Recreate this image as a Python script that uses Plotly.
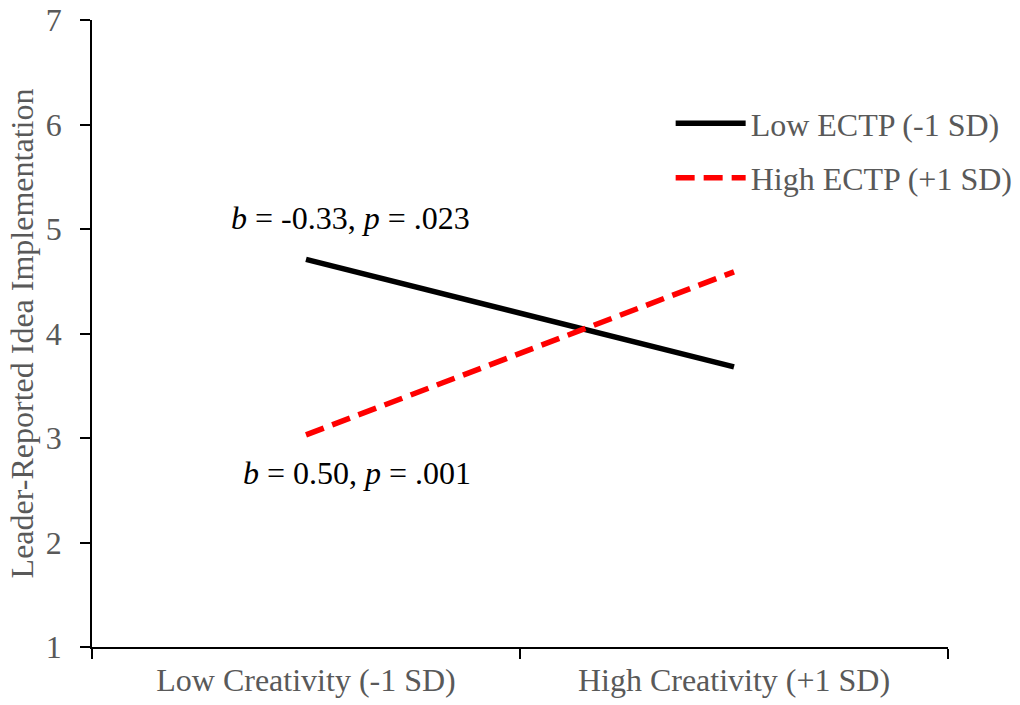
import plotly.graph_objects as go

categories = ["Low Creativity (-1 SD)", "High Creativity (+1 SD)"]
low_ectp = [4.71, 3.68]
high_ectp = [3.03, 4.59]
series_names = ["Low ECTP (-1 SD)", "High ECTP (+1 SD)"]
y_ticks = [1, 2, 3, 4, 5, 6, 7]
label_low = "<i>b</i> = -0.33, <i>p</i> = .023"
label_high = "<i>b</i> = 0.50, <i>p</i> = .001"

FONT = "Liberation Serif, Times New Roman, serif"
GREY = "#595959"
FS = 32

fig = go.Figure()
fig.add_trace(go.Scatter(x=categories, y=low_ectp, mode="lines", name=series_names[0],
                         line=dict(color="black", width=5.5), legendgroup="a"))
fig.add_trace(go.Scatter(x=categories, y=high_ectp, mode="lines", name=series_names[1],
                         line=dict(color="#FF0000", width=5.5, dash="19px,9px"), legendgroup="b"))

fig.add_annotation(x=categories[0], y=low_ectp[0], text=label_low, showarrow=False,
                   xshift=44, yshift=41, font=dict(family=FONT, size=FS, color="black"))
fig.add_annotation(x=categories[0], y=high_ectp[0], text=label_high, showarrow=False,
                   xshift=51, yshift=-38, font=dict(family=FONT, size=FS, color="black"))

fig.update_layout(
    width=1020, height=705,
    margin=dict(l=92, r=72, t=20, b=58, autoexpand=False),
    paper_bgcolor="white", plot_bgcolor="white",
    font=dict(family=FONT, size=FS, color=GREY),
    showlegend=True,
    legend=dict(x=0.676, y=0.879, xanchor="left", yanchor="top", itemwidth=70,
                tracegroupgap=10, font=dict(family=FONT, size=FS, color=GREY),
                bgcolor="rgba(0,0,0,0)"),
    xaxis=dict(type="category", range=[-0.5, 1.5], tickson="boundaries",
               showline=True, linecolor="black", linewidth=1.5,
               ticks="outside", ticklen=10, tickcolor="black", tickwidth=1.5,
               ticklabelstandoff=4,
               showgrid=False, zeroline=False, automargin=False,
               tickfont=dict(family=FONT, size=FS, color=GREY)),
    yaxis=dict(range=[1, 7], tickvals=y_ticks,
               showline=True, linecolor="black", linewidth=1.5,
               ticks="outside", ticklen=10, tickcolor="black", tickwidth=1.5,
               ticklabelstandoff=12, ticklabeloverflow="allow",
               showgrid=False, zeroline=False, automargin=False,
               tickfont=dict(family=FONT, size=FS, color=GREY),
               title=dict(text="Leader-Reported Idea Implementation",
                          font=dict(family=FONT, size=FS, color=GREY), standoff=3)),
)

fig.write_html("out.html", config={"displayModeBar": False},
               post_script="document.body.style.margin='0px';document.body.style.overflow='hidden';")
